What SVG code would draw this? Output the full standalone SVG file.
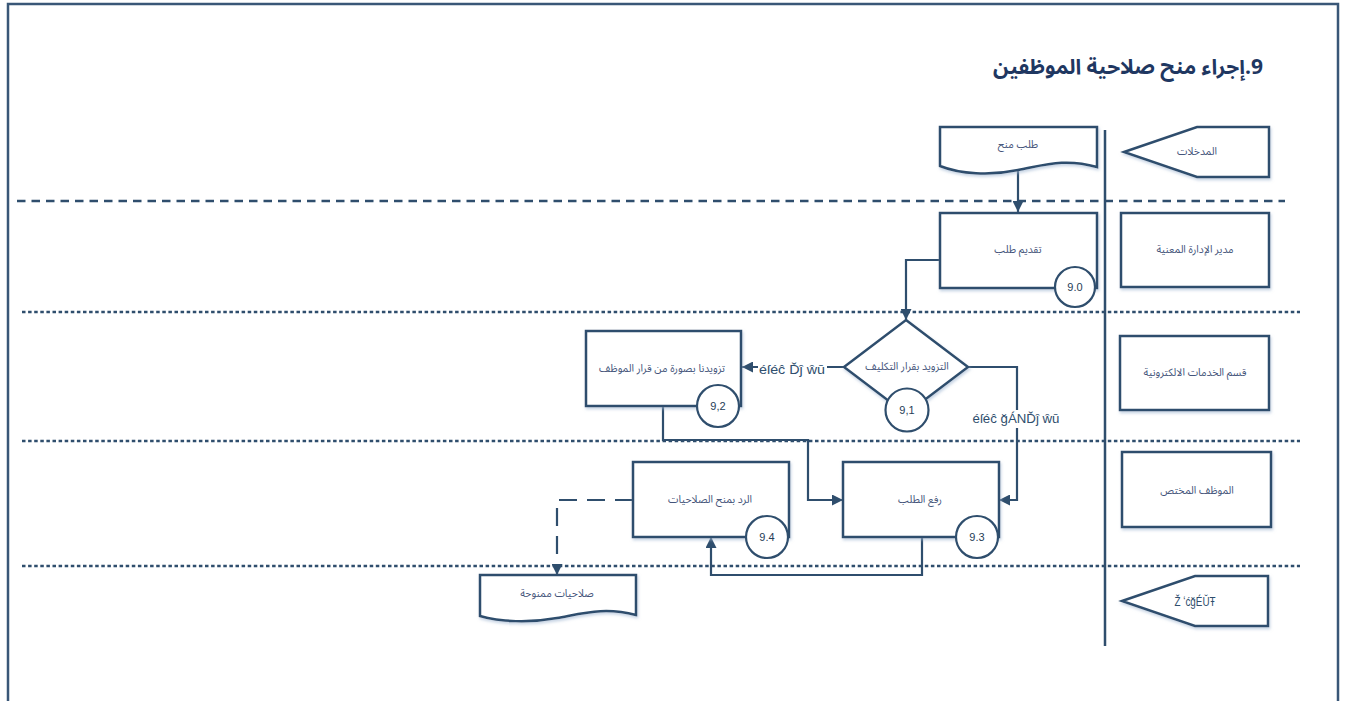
<svg xmlns="http://www.w3.org/2000/svg" width="1349" height="701" viewBox="0 0 1349 701">
<style>
.shape{fill:#ffffff;stroke:#2f4e6d;stroke-width:2.5;filter:url(#sh)}
.circ{fill:#ffffff;stroke:#2f4e6d;stroke-width:2.2}
.lbl{font-family:'Noto Sans Arabic','DejaVu Sans',sans-serif;font-size:10.5px;fill:#44547a;text-anchor:middle;dominant-baseline:central;direction:rtl}
.num{font-family:'Liberation Sans',Arial,sans-serif;font-size:11px;fill:#263d57;text-anchor:middle;dominant-baseline:central}
.garb{font-family:'Liberation Sans',Arial,sans-serif;font-size:13px;fill:#2f4e6d;text-anchor:middle;dominant-baseline:central}
.conn{fill:none;stroke:#2f4e6d;stroke-width:2.2}
.sep{fill:none;stroke:#2f4e6d;stroke-width:2.5}
</style>
<defs>
<filter id="sh" x="-10%" y="-10%" width="120%" height="130%">
<feDropShadow dx="1" dy="2" stdDeviation="1.5" flood-color="#9fb6d0" flood-opacity="0.6"/>
</filter>
<marker id="ah" viewBox="0 0 10 10" refX="10" refY="5" markerWidth="11" markerHeight="11" markerUnits="userSpaceOnUse" orient="auto">
<path d="M0,0 L10,5 L0,10 z" fill="#2f4e6d"/>
</marker>
</defs>
<rect width="1349" height="701" fill="#ffffff"/>
<path d="M8,701 V4 H1338 V701" fill="none" stroke="#3a5777" stroke-width="2.5"/>
<text x="1128" y="67" direction="rtl" text-anchor="middle" dominant-baseline="central" font-family="'Noto Sans Arabic','DejaVu Sans',sans-serif" font-size="21" font-weight="bold" fill="#1f3761">9.إجراء منح صلاحية الموظفين</text>

<g id="lanes">
<line x1="17" y1="201" x2="1285" y2="201" class="sep" stroke-dasharray="8.5,6"/>
<line x1="22" y1="312" x2="1300" y2="312" class="sep" stroke-width="2" stroke-dasharray="3.5,2.6"/>
<line x1="22" y1="441" x2="1300" y2="441" class="sep" stroke-width="2" stroke-dasharray="3.5,2.6"/>
<line x1="22" y1="566" x2="1300" y2="566" class="sep" stroke-width="2" stroke-dasharray="3.5,2.6"/>
<line x1="1105" y1="130" x2="1105" y2="646" class="sep"/>
</g>

<g id="connectors">
<path class="conn" d="M1018,170 V212" marker-end="url(#ah)"/>
<path class="conn" d="M940,260 H906 V320" marker-end="url(#ah)"/>
<path class="conn" d="M844,367 H742" marker-end="url(#ah)"/>
<path class="conn" d="M968,367 H1017 V500 H999" marker-end="url(#ah)"/>
<path class="conn" d="M663,406 V440 H808 V500 H843" marker-end="url(#ah)"/>
<path class="conn" d="M922,537 V575 H711 V537" marker-end="url(#ah)"/>
<path class="conn" d="M633,500 H557 V575" stroke-width="2.5" stroke-dasharray="18,10" marker-end="url(#ah)"/>
<rect x="758" y="360" width="69" height="18" fill="#ffffff"/>
<text class="garb" x="792" y="369" textLength="66" lengthAdjust="spacingAndGlyphs">éſéĉ Ďĵ ŵū</text>
<rect x="1012" y="410" width="10" height="18" fill="#ffffff"/>
<text class="garb" x="1016" y="418" textLength="87" lengthAdjust="spacingAndGlyphs">éſéĉ ğÁNĎĵ ŵū</text>
</g>

<g id="input-doc">
<path class="shape" d="M940,127 H1097 V167 C1065,158 1045,165 1018,170 C990,176 960,174 940,166 Z"/>
<text class="lbl" x="1018" y="145">طلب منح</text>
</g>

<g id="n90">
<rect class="shape" x="940" y="213" width="157" height="75"/>
<text class="lbl" x="1018" y="250">تقديم طلب</text>
<circle class="circ" cx="1075" cy="287" r="20"/>
<text class="num" x="1075" y="287">9.0</text>
</g>

<g id="n91">
<path class="shape" d="M906,320 L968,367 L906,414 L844,367 Z"/>
<text class="lbl" x="907" y="367">التزويد بقرار التكليف</text>
<circle class="circ" cx="907" cy="410" r="21.5"/>
<text class="num" x="907" y="410">9,1</text>
</g>

<g id="n92">
<rect class="shape" x="586" y="331" width="155" height="75"/>
<text class="lbl" x="662" y="369">تزويدنا بصورة من قرار الموظف</text>
<circle class="circ" cx="718" cy="406" r="21"/>
<text class="num" x="718" y="406">9,2</text>
</g>

<g id="n93">
<rect class="shape" x="843" y="462" width="156" height="75"/>
<text class="lbl" x="920" y="500">رفع الطلب</text>
<circle class="circ" cx="977" cy="537" r="21"/>
<text class="num" x="977" y="537">9.3</text>
</g>

<g id="n94">
<rect class="shape" x="633" y="462" width="156" height="75"/>
<text class="lbl" x="710" y="500">الرد بمنح الصلاحيات</text>
<circle class="circ" cx="767" cy="537" r="21"/>
<text class="num" x="767" y="537">9.4</text>
</g>

<g id="output-doc">
<path class="shape" d="M480,575 H636 V615 C605,607 585,613 557,618 C530,623 500,622 480,616 Z"/>
<text class="lbl" x="557" y="594">صلاحيات ممنوحة</text>
</g>

<g id="role-inputs">
<path class="shape" d="M1124,152 L1197,127 H1269 V177 H1197 Z"/>
<text class="lbl" x="1197" y="152">المدخلات</text>
</g>
<g id="role-manager">
<rect class="shape" x="1121" y="213" width="148" height="74"/>
<text class="lbl" x="1195" y="250">مدير الإدارة المعنية</text>
</g>
<g id="role-eservices">
<rect class="shape" x="1120" y="336" width="149" height="74"/>
<text class="lbl" x="1195" y="373">قسم الخدمات الالكترونية</text>
</g>
<g id="role-employee">
<rect class="shape" x="1122" y="452" width="149" height="75"/>
<text class="lbl" x="1197" y="491">الموظف المختص</text>
</g>
<g id="role-outputs">
<path class="shape" d="M1122,601 L1195,576 H1268 V626 H1195 Z"/>
<text class="garb" x="1195" y="601" font-size="12" textLength="41" lengthAdjust="spacingAndGlyphs">Ž ʻćğÉŬŦ</text>
</g>
</svg>
